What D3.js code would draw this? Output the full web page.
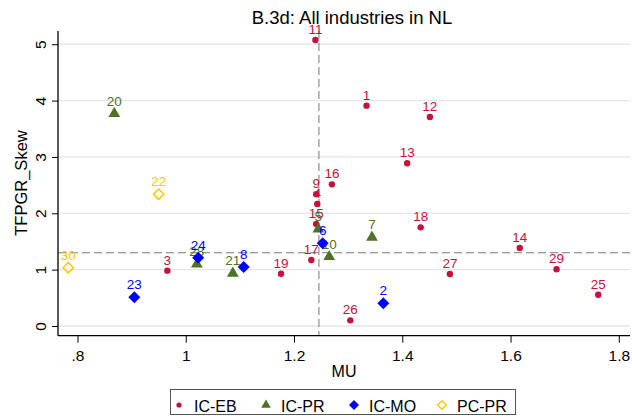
<!DOCTYPE html>
<html><head><meta charset="utf-8">
<script src="https://cdn.jsdelivr.net/npm/d3@7"></script>
<style>body{margin:0;background:#fff}svg{display:block;font-family:"Liberation Sans",Arial,sans-serif}</style>
</head><body><svg id="c" width="632" height="419"></svg>
<script>
// ---- data ----
const ebIds = [1,3,4,9,11,12,13,14,15,16,17,18,19,25,26,27,29];
const ebMU  = [1.334,0.966,1.243,1.241,1.2395,1.451,1.409,1.617,1.241,1.270,1.232,1.434,1.176,1.762,1.304,1.488,1.685];
const ebTF  = [3.91,0.982,2.165,2.34,5.075,3.709,2.887,1.384,1.81,2.514,1.171,1.751,0.928,0.556,0.10,0.923,1.006];
const prIds = [5,7,10,20,21,28];
const prMU  = [1.245,1.344,1.265,0.868,1.087,1.0205];
const prTF  = [1.72,1.574,1.23,3.77,0.935,1.10];
const moIds = [2,6,8,23,24];
const moMU  = [1.365,1.253,1.107,0.905,1.023];
const moTF  = [0.403,1.467,1.047,0.509,1.212];
const pcIds = [22,30];
const pcMU  = [0.950,0.783];
const pcTF  = [2.34,1.035];
const xTicks = [0.8,1.0,1.2,1.4,1.6,1.8];
const yTicks = [0,1,2,3,4,5];
const refMU = 1.246, refTF = 1.30;
const seriesNames = ["IC-EB","IC-PR","IC-MO","PC-PR"];

const svg = d3.select("#c");
const x = d3.scaleLinear().domain([0.764,1.8207]).range([58,630]);
const y = d3.scaleLinear().domain([-0.172,5.235]).range([335.7,31]);
const C = {eb:"#c8103c", pr:"#4e7228", mo:"#0000ff", pc:"#ffc800"};

// grid
svg.append("g").selectAll("line").data(yTicks).join("line")
  .attr("x1",58).attr("x2",630).attr("y1",d=>y(d)).attr("y2",d=>y(d))
  .attr("stroke","#e6e6e6").attr("stroke-width",1.3);

// ref lines
svg.append("line").attr("x1",58).attr("x2",630).attr("y1",y(refTF)).attr("y2",y(refTF))
  .attr("stroke","#777").attr("stroke-dasharray","8,4").attr("stroke-width",1);
svg.append("line").attr("x1",x(refMU)).attr("x2",x(refMU)).attr("y1",31).attr("y2",335.7)
  .attr("stroke","#777").attr("stroke-dasharray","8,4").attr("stroke-width",1);

// axes
const fmt = d => d3.format("~g")(d).replace(/^0\./,".");
const xa = svg.append("g").attr("transform","translate(0,335.7)")
  .call(d3.axisBottom(x).tickValues(xTicks).tickFormat(fmt).tickSize(7).tickSizeOuter(0));
xa.select(".domain").attr("stroke","#000").attr("stroke-width",1.3);
xa.selectAll(".tick line").attr("stroke","#000");
xa.selectAll("text").attr("font-size",15.5).attr("fill","#000").attr("y",14).attr("dy","0.71em").attr("font-family","Liberation Sans, Arial");

const ya = svg.append("g").attr("transform","translate(58,0)")
  .call(d3.axisLeft(y).tickValues(yTicks).tickFormat(fmt).tickSize(6).tickSizeOuter(0));
ya.select(".domain").attr("stroke","#000").attr("stroke-width",1.3);
ya.selectAll(".tick line").attr("stroke","#000");
ya.selectAll(".tick text").attr("font-size",15.5).attr("fill","#000").attr("font-family","Liberation Sans, Arial")
  .attr("x",null).attr("dy",null).attr("text-anchor","middle")
  .attr("transform","translate(-18,0) rotate(-90)").attr("dominant-baseline","central");
xa.select(".domain").attr("d","M58,0H630");
ya.select(".domain").attr("d","M0,31V335.7");

// titles
svg.append("text").attr("x",352).attr("y",24).attr("text-anchor","middle").attr("font-size",18.5).text("B.3d: All industries in NL");
svg.append("text").attr("x",344).attr("y",377).attr("text-anchor","middle").attr("font-size",16).text("MU");
svg.append("text").attr("transform","translate(27,183) rotate(-90)").attr("text-anchor","middle").attr("font-size",16.5).text("TFPGR_Skew");

// markers
const tri = d3.symbol().type(d3.symbolTriangle).size(60);
const dia = d => `M0,${-d}L${d},0L0,${d}L${-d},0Z`;
function draw(ids, mu, tf, col, kind){
  const g = svg.append("g");
  const data = ids.map((id,i)=>({id, mu:mu[i], tf:tf[i]}));
  data.forEach(d=>{
    const px = x(d.mu), py = y(d.tf);
    if(kind==="dot") g.append("circle").attr("cx",px).attr("cy",py).attr("r",3.2).attr("fill",col);
    else if(kind==="tri") g.append("path").attr("d",tri()).attr("transform",`translate(${px},${py})`).attr("fill",col);
    else if(kind==="dia") g.append("path").attr("d",dia(6)).attr("transform",`translate(${px},${py})`).attr("fill",col);
    else g.append("path").attr("d",dia(5.2)).attr("transform",`translate(${px},${py})`).attr("fill","none").attr("stroke",col).attr("stroke-width",1.5);
    g.append("text").attr("x",px).attr("y",py-(kind==="dot"?6:8)).attr("text-anchor","middle")
      .attr("font-size",13.5).attr("fill",col).text(d.id);
  });
}
draw(ebIds, ebMU, ebTF, C.eb, "dot");
draw(prIds, prMU, prTF, C.pr, "tri");
draw(moIds, moMU, moTF, C.mo, "dia");
draw(pcIds, pcMU, pcTF, C.pc, "hdia");

// legend
const lg = svg.append("g");
lg.append("rect").attr("x",170.5).attr("y",389.5).attr("width",345).attr("height",25).attr("fill","#fff").attr("stroke","#555").attr("stroke-width",1);
const lx = [179,266,354,442];
const kinds = ["dot","tri","dia","hdia"];
const cols = [C.eb,C.pr,C.mo,C.pc];
seriesNames.forEach((n,i)=>{
  const cx = lx[i], cy = 406;
  if(kinds[i]==="dot") lg.append("circle").attr("cx",cx).attr("cy",cy-1).attr("r",2.6).attr("fill",cols[i]);
  else if(kinds[i]==="tri") lg.append("path").attr("d",d3.symbol().type(d3.symbolTriangle).size(40)()).attr("transform",`translate(${cx},${cy-1})`).attr("fill",cols[i]);
  else if(kinds[i]==="dia") lg.append("path").attr("d",dia(5)).attr("transform",`translate(${cx},${cy-1})`).attr("fill",cols[i]);
  else lg.append("path").attr("d",dia(4.3)).attr("transform",`translate(${cx},${cy-1})`).attr("fill","none").attr("stroke",cols[i]).attr("stroke-width",1.4);
  lg.append("text").attr("x",cx+15).attr("y",cy+6).attr("font-size",16).text(n);
});
</script></body></html>
